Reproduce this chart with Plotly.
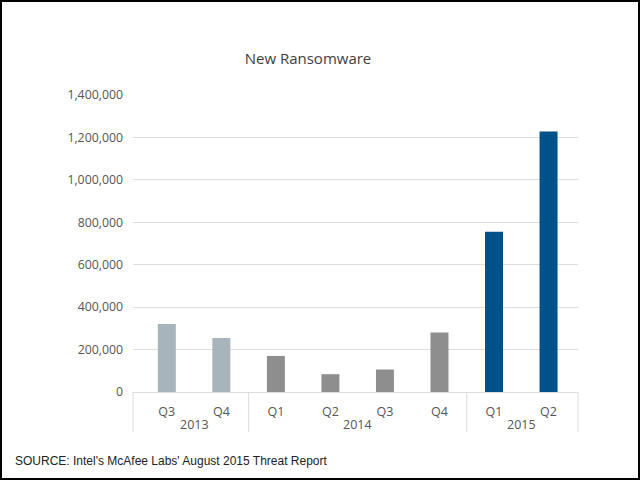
import plotly.graph_objects as go

years = ["2013", "2013", "2014", "2014", "2014", "2014", "2015", "2015"]
quarters = ["Q3", "Q4", "Q1", "Q2", "Q3", "Q4", "Q1", "Q2"]
new_ransomware = [321000, 254000, 170000, 84000, 106000, 281000, 755000, 1228000]

year_colors = {"2013": "#A8B4BB", "2014": "#8E8E8E", "2015": "#00508A"}

W, H = 640, 480
ml, mr, mt, mb = 133, 62, 95, 88
pw, ph = W - ml - mr, H - mt - mb
GRID = "#DCDCDC"

cats = [f"{y} {q}" for y, q in zip(years, quarters)]

fig = go.Figure(
    go.Bar(
        x=cats,
        y=new_ransomware,
        marker=dict(color=[year_colors[y] for y in years], line=dict(width=0)),
        width=0.33,
        hoverinfo="x+y",
    )
)

# year group labels and dividers, derived from the data
annotations = []
shapes = []
unique_years = list(dict.fromkeys(years))
for yr in unique_years:
    idx = [i for i, v in enumerate(years) if v == yr]
    annotations.append(
        dict(
            text=yr,
            xref="x",
            yref="paper",
            x=(idx[0] + idx[-1]) / 2,
            y=-(424 - (H - mb)) / ph,
            xanchor="center",
            yanchor="middle",
            showarrow=False,
            font=dict(family="Open Sans", size=12.5, color="#555555"),
        )
    )
    if idx[0] > 0:
        shapes.append(
            dict(type="line", xref="x", yref="paper", x0=idx[0] - 0.5, x1=idx[0] - 0.5,
                 y0=0, y1=-(432 - (H - mb)) / ph, line=dict(color=GRID, width=1))
        )
for xe in (0, 1):
    shapes.append(
        dict(type="line", xref="paper", yref="paper", x0=xe, x1=xe,
             y0=0, y1=-(432 - (H - mb)) / ph, line=dict(color=GRID, width=1))
    )

annotations.append(
    dict(
        text="SOURCE: Intel's McAfee Labs' August 2015 Threat Report",
        xref="paper",
        yref="paper",
        x=(13 - ml) / pw,
        y=-(461 - (H - mb)) / ph,
        xanchor="left",
        yanchor="middle",
        showarrow=False,
        font=dict(family="Liberation Sans", size=12, color="#222222"),
    )
)
shapes.append(
    dict(
        type="rect",
        xref="paper",
        yref="paper",
        x0=(1 - ml) / pw,
        x1=(W - 1 - ml) / pw,
        y0=-(mb - 1) / ph,
        y1=(H - mb - 1) / ph,
        line=dict(color="black", width=2),
        layer="above",
    )
)

fig.update_layout(
    width=W,
    height=H,
    margin=dict(l=ml, r=mr, t=mt, b=mb),
    paper_bgcolor="white",
    plot_bgcolor="white",
    showlegend=False,
    font=dict(family="Open Sans", color="#555555", size=12),
    title=dict(
        text="New Ransomware",
        x=308 / W,
        xanchor="center",
        y=1 - 59 / H,
        yanchor="middle",
        font=dict(family="Open Sans", size=15, color="#404040"),
    ),
    xaxis=dict(
        type="category",
        categoryorder="array",
        categoryarray=cats,
        tickvals=cats,
        ticktext=quarters,
        range=[-0.62, 7.54],
        showline=True,
        linecolor=GRID,
        linewidth=1,
        showgrid=False,
        ticks="",
        ticklabelstandoff=8,
        tickfont=dict(size=12.5, color="#555555"),
    ),
    yaxis=dict(
        range=[0, 1400000],
        dtick=200000,
        tickformat=",d",
        showgrid=True,
        gridcolor=GRID,
        gridwidth=1,
        zeroline=False,
        showline=False,
        ticks="",
        ticklabelstandoff=9,
        tickfont=dict(size=12.3, color="#555555"),
    ),
    annotations=annotations,
    shapes=shapes,
)

fig.write_html(
    "out.html",
    config={"displayModeBar": False},
    post_script="document.body.style.margin='0';document.body.style.overflow='hidden';",
)
